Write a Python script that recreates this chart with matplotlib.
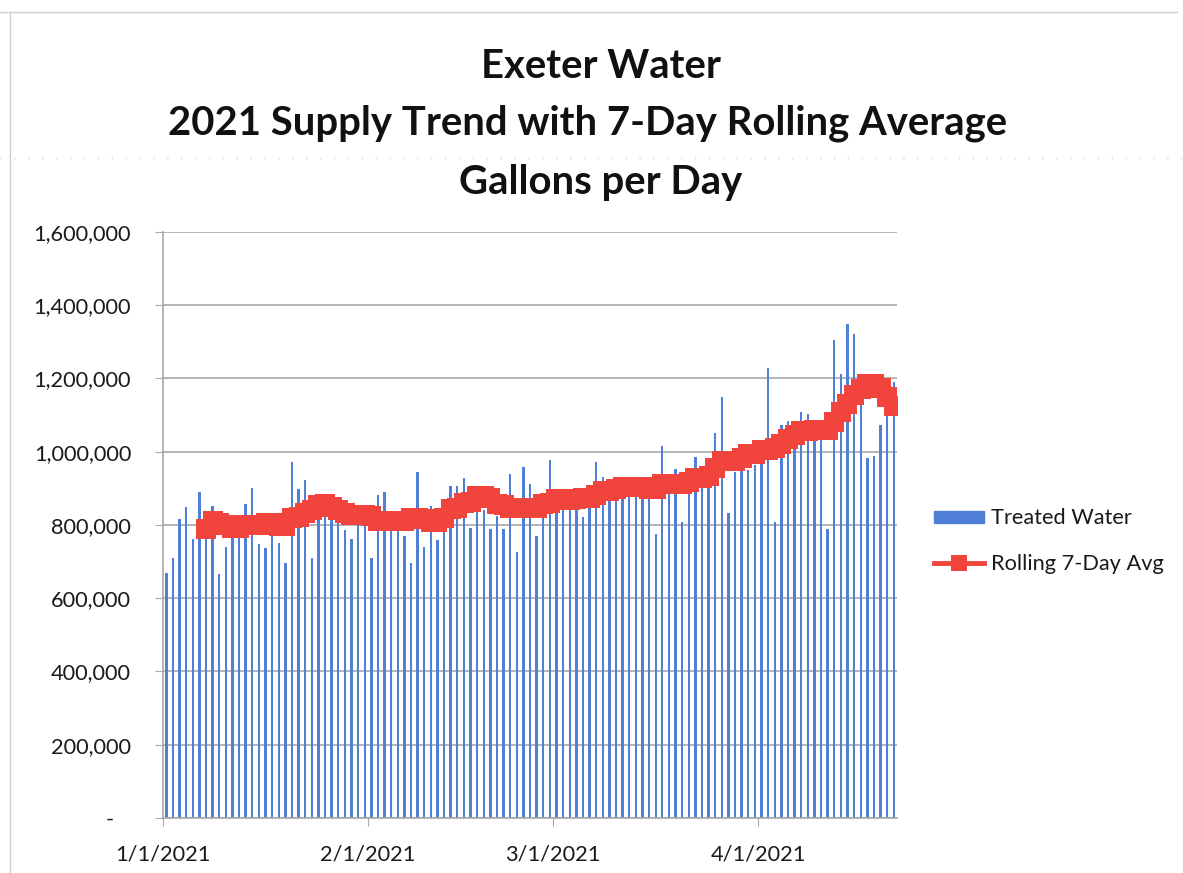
import matplotlib
matplotlib.use("Agg")
import matplotlib.pyplot as plt
from matplotlib.ticker import FuncFormatter, MultipleLocator
from matplotlib.lines import Line2D
from matplotlib.patches import Patch
import pandas as pd

plt.rcParams['font.family'] = ['Lato', 'DejaVu Sans']

# daily treated water, gallons (1/1/2021 .. 4/21/2021)
treated = [
    670000, 711000, 817000, 849000, 761000, 890000, 775000, 853000, 665000, 740000,
    780000, 790000, 858000, 902000, 748000, 736000, 771000, 750000, 695000, 972000,
    897000, 924000, 711000, 820000, 830000, 817000, 810000, 786000, 763000, 805000,
    800000, 711000, 881000, 889000, 783000, 800000, 770000, 696000, 945000, 740000,
    852000, 759000, 869000, 907000, 907000, 927000, 791000, 855000, 840000, 788000,
    825000, 788000, 938000, 725000, 957000, 912000, 770000, 830000, 977000, 834000,
    850000, 855000, 860000, 822000, 870000, 973000, 930000, 880000, 885000, 885000,
    888000, 895000, 895000, 885000, 776000, 1016000, 900000, 954000, 809000, 955000,
    986000, 920000, 935000, 1051000, 1149000, 833000, 945000, 950000, 950000, 964000,
    970000, 1229000, 808000, 1072000, 1085000, 1030000, 1108000, 1104000, 1040000, 1035000,
    788000, 1305000, 1212000, 1348000, 1321000, 1127000, 984000, 989000, 1074000, 1100000,
    1191000,
]

# rolling 7-day average, starts on day 7 (1/7/2021)
rolling_avg = [
    788000, 812000, 806000, 800000, 793000, 793000, 799000, 800000, 800000, 805000,
    805000, 797000, 797000, 818000, 822000, 833000, 840000, 855000, 857000, 848000,
    840000, 834000, 827000, 827000, 827000, 825000, 812000, 812000, 812000, 812000,
    812000, 819000, 819000, 815000, 807000, 807000, 820000, 843000, 845000, 861000,
    863000, 879000, 879000, 875000, 858000, 855000, 846000, 846000, 846000, 847000,
    845000, 857000, 860000, 870000, 870000, 868000, 870000, 875000, 875000, 883000,
    894000, 894000, 897000, 905000, 905000, 905000, 905000, 897000, 897000, 911000,
    911000, 911000, 913000, 918000, 929000, 929000, 935000, 955000, 975000, 975000,
    975000, 983000, 995000, 995000, 1004000, 1004000, 1009000, 1022000, 1035000, 1047000,
    1056000, 1056000, 1058000, 1058000, 1058000, 1081000, 1108000, 1130000, 1155000, 1170000,
    1185000, 1185000, 1175000, 1150000, 1125000,
]

tick_dates = ["2021-01-01", "2021-02-01", "2021-03-01", "2021-04-01"]
title_lines = ["Exeter Water",
               "2021 Supply Trend with 7-Day Rolling Average",
               "Gallons per Day"]

BLUE = "#4f7fd6"
RED = "#f0443c"
GRID = "#a8a8a8"

days = pd.date_range("2021-01-01", periods=len(treated), freq="D")
half = pd.Timedelta(hours=12)
avg_days = days[len(treated) - len(rolling_avg):]

fig = plt.figure(figsize=(11.83, 8.73), dpi=100)
ax = fig.add_axes([0.1378, 0.063, 0.6205, 0.6713])

ax.bar(days + half, treated, width=0.36, color=BLUE, zorder=2, label="Treated Water")
ax.plot(avg_days + half, rolling_avg, color=RED, lw=4, marker="s", ms=14,
        mfc=RED, mec=RED, mew=0, zorder=3, label="Rolling 7-Day Avg")

ax.set_ylim(0, 1600000)
ax.set_xlim(days[0], days[-1] + pd.Timedelta(days=1))
ax.yaxis.set_major_locator(MultipleLocator(200000))
ax.yaxis.set_major_formatter(FuncFormatter(
    lambda v, p: "-   " if v == 0 else f"{v:,.0f}"))

ticks = pd.to_datetime(tick_dates)
ax.set_xticks(ticks)
ax.set_xticklabels([f"{d.month}/{d.day}/{d.year}" for d in ticks])

ax.yaxis.grid(True, color=GRID, lw=1.2)
ax.set_axisbelow(True)
for s in ["top", "right"]:
    ax.spines[s].set_visible(False)
for s in ["left", "bottom"]:
    ax.spines[s].set_color(GRID)
    ax.spines[s].set_linewidth(1.2)

ax.tick_params(axis="y", length=6, color=GRID, labelsize=15.7, pad=17, labelcolor="#1a1a1a")
ax.tick_params(axis="x", length=6, color=GRID, labelsize=15.7, pad=13, labelcolor="#1a1a1a")

handles = [Patch(facecolor=BLUE, edgecolor=BLUE),
           Line2D([], [], color=RED, lw=3.5, marker="s", ms=12, mfc=RED, mec=RED, mew=0)]
fig.legend(handles, ["Treated Water", "Rolling 7-Day Avg"],
           loc="center left", bbox_to_anchor=(934 / 1183, 1 - 541 / 873),
           frameon=False, fontsize=15.7, handlelength=2.3, handleheight=0.5,
           handletextpad=0.3, labelspacing=1.15, borderpad=0, borderaxespad=0,
           labelcolor="#1a1a1a")

baselines = [78, 135, 194]
centers = [601, 588, 601]
for line, yb, xc in zip(title_lines, baselines, centers):
    fig.text(xc / 1183, 1 - yb / 873, line, ha="center", va="baseline",
             fontsize=28.8, fontweight="bold", color="#111111")

# faint scan edges of the original page
fig.add_artist(Line2D([0, 0.995], [1 - 12 / 873] * 2, transform=fig.transFigure,
                      color="#cfcfcf", lw=1))
fig.add_artist(Line2D([10 / 1183] * 2, [0, 1 - 12 / 873], transform=fig.transFigure,
                      color="#cfcfcf", lw=1))
fig.add_artist(Line2D([0, 1], [1 - 158 / 873] * 2, transform=fig.transFigure,
                      color="#d0d0d0", lw=1, ls=(0, (1, 9))))

fig.savefig("out.png", dpi=100)
